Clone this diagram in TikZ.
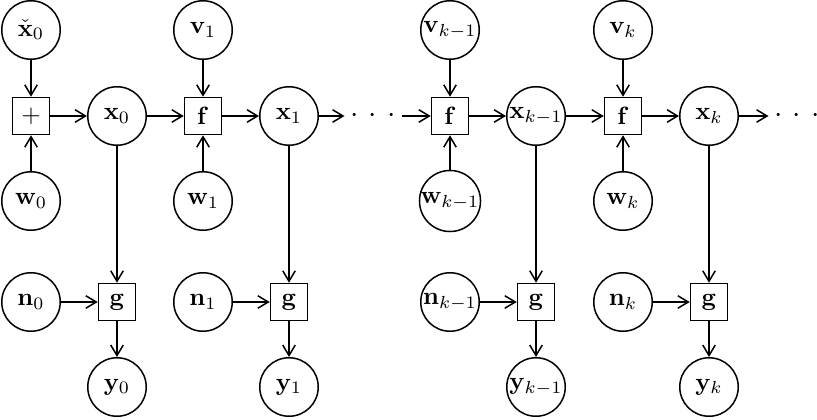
\documentclass[tikz,border=0pt]{standalone}
\usetikzlibrary{arrows.meta}
\begin{document}
\begin{tikzpicture}[x=0.4pt,y=-0.4pt,
  line width=0.6pt,
  var/.style={circle,draw,minimum size=23.4pt,inner sep=0pt},
  fun/.style={rectangle,draw,minimum size=14.8pt,inner sep=0pt},
  dotsnode/.style={inner sep=2pt,font=\large},
  arr/.style={-{Straight Barb[length=4.2pt,width=5pt]}}]
\useasboundingbox (0,0) rectangle (817,419);
\newcommand{\dotsrow}{$\cdotp\hspace{2.1pt}\cdotp\hspace{2.1pt}\cdotp$}
% block 0
\node[var] (xc0) at (31,30) {$\check{\mathbf{x}}_0$};
\node[fun] (plus) at (31,116) {$+$};
\node[var] (w0) at (31,201) {$\mathbf{w}_0$};
\node[var] (x0) at (117,116) {$\mathbf{x}_0$};
\node[var] (n0) at (31,302) {$\mathbf{n}_0$};
\node[fun] (g0) at (117,302) {$\mathbf{g}$};
\node[var] (y0) at (117,387) {$\mathbf{y}_0$};
% block 1
\node[var] (v1) at (203,30) {$\mathbf{v}_1$};
\node[fun] (f1) at (203,116) {$\mathbf{f}$};
\node[var] (w1) at (203,201) {$\mathbf{w}_1$};
\node[var] (x1) at (289,116) {$\mathbf{x}_1$};
\node[var] (n1) at (203,302) {$\mathbf{n}_1$};
\node[fun] (g1) at (289,302) {$\mathbf{g}$};
\node[var] (y1) at (289,387) {$\mathbf{y}_1$};
% dots
\node[dotsnode] (d1) at (373,116) {\dotsrow};
% block k-1
\node[var] (vkm) at (450,30) {$\mathbf{v}_{k-1}$};
\node[fun] (fkm) at (450,116) {$\mathbf{f}$};
\node[var] (wkm) at (450,201) {$\mathbf{w}_{k-1}$};
\node[var] (xkm) at (536,116) {$\mathbf{x}_{k-1}$};
\node[var] (nkm) at (450,302) {$\mathbf{n}_{k-1}$};
\node[fun] (gkm) at (536,302) {$\mathbf{g}$};
\node[var] (ykm) at (536,387) {$\mathbf{y}_{k-1}$};
% block k
\node[var] (vk) at (623,30) {$\mathbf{v}_k$};
\node[fun] (fk) at (623,116) {$\mathbf{f}$};
\node[var] (wk) at (623,201) {$\mathbf{w}_k$};
\node[var] (xk) at (709,116) {$\mathbf{x}_k$};
\node[var] (nk) at (623,302) {$\mathbf{n}_k$};
\node[fun] (gk) at (709,302) {$\mathbf{g}$};
\node[var] (yk) at (709,387) {$\mathbf{y}_k$};
\node[dotsnode] (d2) at (797,116) {\dotsrow};
% edges
\draw[arr] (xc0) -- (plus);
\draw[arr] (w0) -- (plus);
\draw[arr] (plus) -- (x0);
\draw[arr] (x0) -- (f1);
\draw[arr] (v1) -- (f1);
\draw[arr] (w1) -- (f1);
\draw[arr] (f1) -- (x1);
\draw[arr] (x1) -- (d1);
\draw[arr] (d1) -- (fkm);
\draw[arr] (vkm) -- (fkm);
\draw[arr] (wkm) -- (fkm);
\draw[arr] (fkm) -- (xkm);
\draw[arr] (xkm) -- (fk);
\draw[arr] (vk) -- (fk);
\draw[arr] (wk) -- (fk);
\draw[arr] (fk) -- (xk);
\draw[arr] (xk) -- (d2);
\draw[arr] (x0) -- (g0);
\draw[arr] (n0) -- (g0);
\draw[arr] (g0) -- (y0);
\draw[arr] (x1) -- (g1);
\draw[arr] (n1) -- (g1);
\draw[arr] (g1) -- (y1);
\draw[arr] (xkm) -- (gkm);
\draw[arr] (nkm) -- (gkm);
\draw[arr] (gkm) -- (ykm);
\draw[arr] (xk) -- (gk);
\draw[arr] (nk) -- (gk);
\draw[arr] (gk) -- (yk);
\end{tikzpicture}
\end{document}
